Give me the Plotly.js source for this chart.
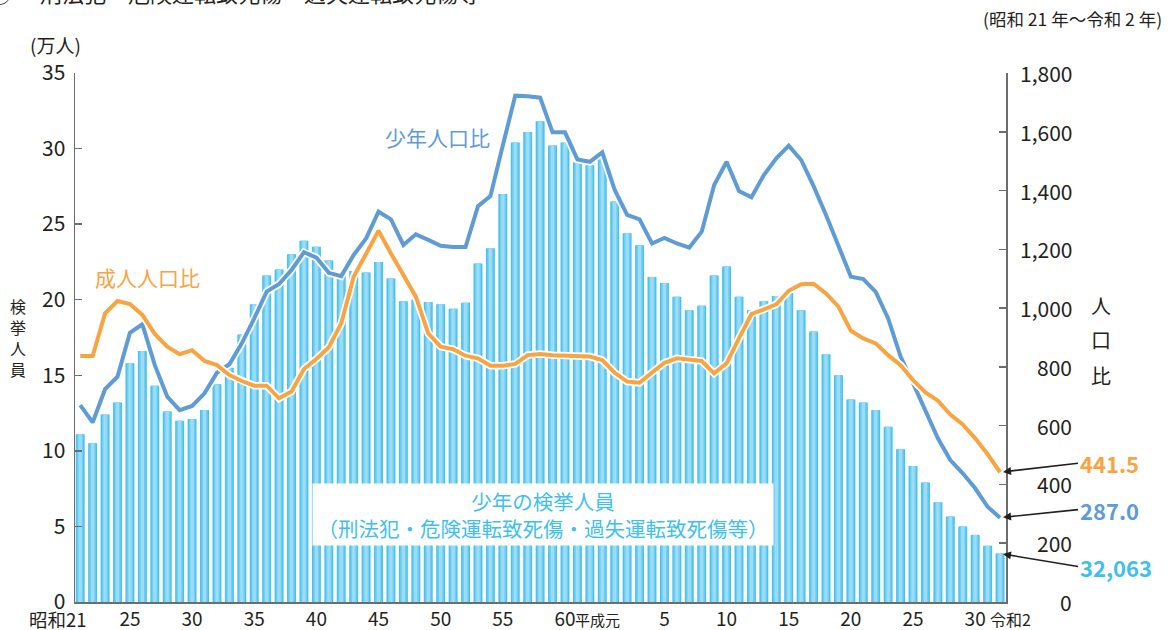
<!DOCTYPE html>
<html>
<head>
<meta charset="utf-8">
<script src="https://cdn.plot.ly/plotly-3.0.1.min.js"></script>
<style>html,body{margin:0;padding:0;background:#fff;}#chart{width:1173px;height:630px;}</style>
</head>
<body>
<div id="chart"></div>
<script>
// 年次（昭和21年〜令和2年）
const years = Array.from({length: 75}, (_, i) => i);
const xTickVals = [4, 9, 14, 19, 24, 29, 34, 39, 47, 52, 57, 62, 67, 72];
const xTickText = ['25', '30', '35', '40', '45', '50', '55', '60', '5', '10', '15', '20', '25', '30'];
const eraLabels = ['昭和21', '平成元', '令和2'];
const eraIdx = [0, 43, 74];

// 少年の検挙人員（万人）
const arrests = [
  11.1, 10.5, 12.4, 13.2, 15.8, 16.6, 14.3, 12.6, 12.0, 12.1,
  12.7, 14.4, 15.5, 17.7, 19.7, 21.6, 22.0, 23.0, 23.9, 23.5,
  22.6, 21.7, 21.9, 21.8, 22.5, 21.4, 19.9, 20.0, 19.85, 19.7,
  19.4, 19.8, 22.4, 23.4, 27.0, 30.4, 31.1, 31.8, 30.2, 30.4,
  29.1, 28.9, 29.4, 26.5, 24.4, 23.6, 21.5, 21.1, 20.2, 19.3,
  19.6, 21.6, 22.2, 20.2, 19.3, 19.9, 20.25, 20.45, 19.3, 17.9,
  16.4, 15.0, 13.4, 13.2, 12.7, 11.6, 10.1, 9.0, 7.9, 6.6,
  5.65, 5.0, 4.44, 3.72, 3.2063
];

// 少年人口比
const juvRate = [
  670, 611, 724, 767, 916, 945, 806, 699, 653, 667,
  710, 780, 809, 880, 965, 1056, 1082, 1130, 1190, 1172,
  1120, 1109, 1181, 1237, 1328, 1302, 1215, 1251, 1232, 1212,
  1208, 1208, 1347, 1381, 1554, 1723, 1721, 1716, 1598, 1598,
  1506, 1498, 1530, 1402, 1317, 1302, 1220, 1239, 1220, 1206,
  1260, 1419, 1498, 1398, 1377, 1453, 1510, 1553, 1504, 1415,
  1317, 1209, 1107, 1099, 1055, 965, 835, 745, 650, 557,
  483, 438, 387, 324, 287.0
];

// 成人人口比
const adultRate = [
  837, 837, 982, 1024, 1014, 977, 912, 869, 843, 857,
  820, 806, 772, 752, 736, 736, 693, 716, 793, 827,
  867, 948, 1107, 1186, 1263, 1186, 1113, 1039, 914, 869,
  860, 838, 829, 804, 804, 810, 840, 844, 840, 838,
  835, 835, 823, 780, 750, 746, 781, 814, 829, 823,
  820, 778, 812, 897, 980, 996, 1013, 1059, 1081, 1083,
  1050, 1005, 923, 897, 880, 840, 806, 755, 713, 685,
  638, 604, 557, 503, 441.5
];

const leftTicks = [0, 5, 10, 15, 20, 25, 30, 35];
const rightTicks = [0, 200, 400, 600, 800, 1000, 1200, 1400, 1600, 1800];
const rightTickText = ['0', '200', '400', '600', '800', '1,000', '1,200', '1,400', '1,600', '1,800'];

const FONT = '"Noto Sans CJK JP", "Noto Sans", sans-serif';
const BLUE = '#5f9bd4';
const ORANGE = '#f8a443';
const CYAN = '#3fbfed';
const TXT = '#231f20';

const traces = [
  {type: 'bar', x: years, y: arrests, width: 0.72, marker: {color: '#45c2ef'}, hoverinfo: 'skip', showlegend: false},
  {type: 'bar', x: years, y: arrests, width: 0.5, marker: {color: '#6fcff3'}, hoverinfo: 'skip', showlegend: false},
  {type: 'bar', x: years, y: arrests, width: 0.26, marker: {color: '#9edcf6'}, hoverinfo: 'skip', showlegend: false},
  {type: 'scatter', mode: 'lines', x: years, y: juvRate, yaxis: 'y2', line: {color: '#ffffff', width: 7.5}, hoverinfo: 'skip', showlegend: false},
  {type: 'scatter', mode: 'lines', x: years, y: juvRate, yaxis: 'y2', line: {color: BLUE, width: 4}, showlegend: false},
  {type: 'scatter', mode: 'lines', x: years, y: adultRate, yaxis: 'y2', line: {color: '#ffffff', width: 7.5}, hoverinfo: 'skip', showlegend: false},
  {type: 'scatter', mode: 'lines', x: years, y: adultRate, yaxis: 'y2', line: {color: ORANGE, width: 4}, showlegend: false}
];

const L = 75, R = 1006, T = 73, B = 602;
const px = v => (v - L) / (R - L);
const py = v => (B - v) / (B - T);

function txt(x, y, text, size, color, xanchor, extra) {
  return Object.assign({xref: 'paper', yref: 'paper', x: px(x), y: py(y), text: text, showarrow: false,
    xanchor: xanchor || 'center', yanchor: 'middle', font: {family: FONT, size: size, color: color}}, extra || {});
}

const annotations = [];
// right axis tick labels (right aligned)
rightTicks.forEach((v, i) => annotations.push({
  xref: 'paper', yref: 'y2', x: px(1074), y: v, xanchor: 'right', yanchor: 'middle',
  text: rightTickText[i], showarrow: false, font: {family: FONT, size: 21, color: TXT}
}));
// era tick labels
annotations.push({xref: 'x', yref: 'paper', x: eraIdx[0], y: py(618.5), xanchor: 'right', yanchor: 'middle', xshift: 9, text: eraLabels[0], showarrow: false, font: {family: FONT, size: 18.5, color: TXT}});
annotations.push({xref: 'x', yref: 'paper', x: eraIdx[1], y: py(619), xanchor: 'right', yanchor: 'middle', xshift: 7, text: eraLabels[1], showarrow: false, font: {family: FONT, size: 15, color: TXT}});
annotations.push({xref: 'x', yref: 'paper', x: eraIdx[2], y: py(619), xanchor: 'left', yanchor: 'middle', xshift: -12, text: eraLabels[2], showarrow: false, font: {family: FONT, size: 16, color: TXT}});

// texts
annotations.push(txt(55, 45, '(万人)', 19, TXT));
annotations.push(txt(38, -8, '刑法犯・危険運転致死傷・過失運転致死傷等', 22, TXT, 'left'));
annotations.push(txt(0, -8, '①', 22, TXT));
annotations.push(txt(1164, 19, '(昭和 21 年～令和 2 年)', 17.5, TXT, 'right'));
annotations.push(txt(437, 137, '少年人口比', 21, BLUE));
annotations.push(txt(147, 277, '成人人口比', 21, ORANGE));
annotations.push(txt(543, 514.5, '少年の検挙人員<br>（刑法犯・危険運転致死傷・過失運転致死傷等）', 20.5, CYAN, 'center',
  {bgcolor: '#ffffff', width: 456, height: 57, borderpad: 2}));
['検', '挙', '人', '員'].forEach((c, i) => annotations.push(txt(18, 306 + 21 * i, c, 16, TXT)));
['人', '口', '比'].forEach((c, i) => annotations.push(txt(1101, 305 + 35 * i, c, 20, TXT)));

// value callouts
const n = years.length - 1;
const arrowBase = {showarrow: true, arrowhead: 2, arrowsize: 1, arrowwidth: 1.6, arrowcolor: TXT, xanchor: 'left', yanchor: 'middle', standoff: 3};
annotations.push(Object.assign({}, arrowBase, {xref: 'x', yref: 'y2', x: years[n], y: adultRate[n], ax: 78, ay: -9,
  text: adultRate[n].toFixed(1), font: {family: FONT, size: 22, color: ORANGE, weight: 'bold'}}));
annotations.push(Object.assign({}, arrowBase, {xref: 'x', yref: 'y2', x: years[n], y: juvRate[n], ax: 78, ay: -8,
  text: juvRate[n].toFixed(1), font: {family: FONT, size: 22, color: BLUE, weight: 'bold'}}));
annotations.push(Object.assign({}, arrowBase, {xref: 'x', yref: 'y', x: years[n], y: arrests[n], ax: 78, ay: 13,
  text: Math.round(arrests[n] * 10000).toLocaleString('en-US'), font: {family: FONT, size: 22, color: CYAN, weight: 'bold'}}));

const layout = {
  width: 1173, height: 630,
  margin: {l: L, r: 1173 - R, t: T, b: 630 - B, pad: 0},
  paper_bgcolor: '#ffffff', plot_bgcolor: '#ffffff',
  font: {family: FONT, color: TXT},
  barmode: 'overlay',
  showlegend: false,
  xaxis: {
    range: [-0.42, 74.48], showgrid: false, zeroline: false,
    showline: true, linecolor: '#6d6d6d', linewidth: 1.5,
    tickmode: 'array', tickvals: xTickVals, ticktext: xTickText, ticks: '',
    tickfont: {family: FONT, size: 19, color: TXT}, ticklabelstandoff: 0
  },
  yaxis: {
    range: [0, 35], showgrid: false, zeroline: false,
    showline: true, linecolor: '#6d6d6d', linewidth: 1.5,
    tickmode: 'array', tickvals: leftTicks, ticks: 'inside', ticklen: 7, tickcolor: '#6d6d6d', tickwidth: 1.5,
    tickfont: {family: FONT, size: 21, color: TXT}, ticklabelstandoff: 4
  },
  yaxis2: {
    range: [0, 1800], overlaying: 'y', side: 'right', showgrid: false, zeroline: false,
    showline: true, linecolor: '#6d6d6d', linewidth: 1.5,
    tickmode: 'array', tickvals: rightTicks, ticks: 'inside', ticklen: 7, tickcolor: '#6d6d6d', tickwidth: 1.5,
    showticklabels: false
  },
  annotations: annotations
};

Plotly.newPlot('chart', traces, layout, {displayModeBar: false, staticPlot: true});
</script>
</body>
</html>
